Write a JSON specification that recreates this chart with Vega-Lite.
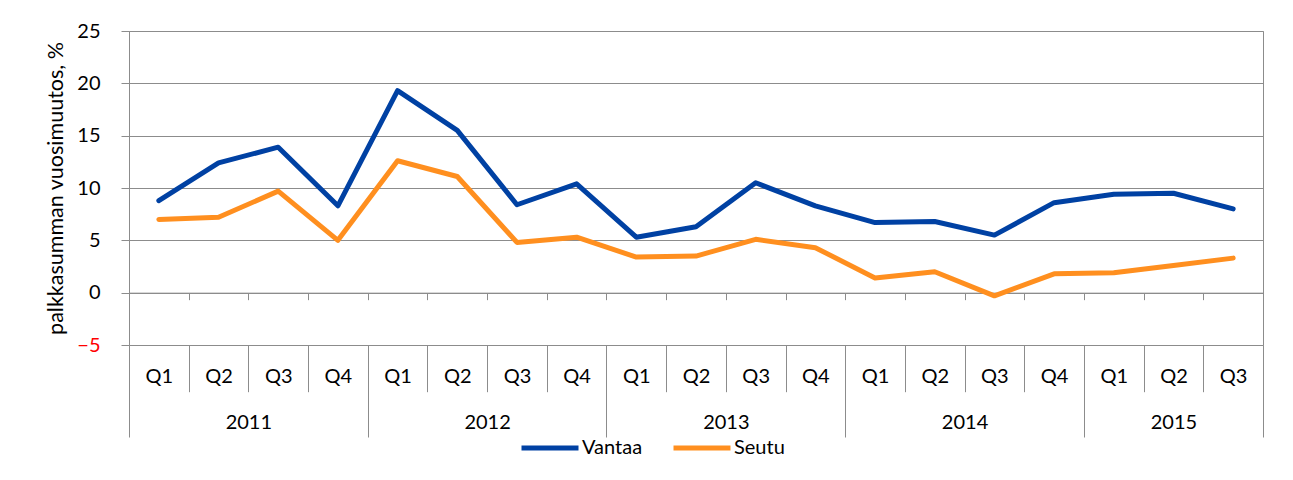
{
  "$schema": "https://vega.github.io/schema/vega-lite/v6.json",
  "width": 1134,
  "height": 314,
  "autosize": {"type": "none"},
  "padding": {"left": 129, "top": 31, "right": 30, "bottom": 135},
  "background": "white",
  "config": {
    "font": "Lato",
    "view": {"stroke": "#8c8c8c", "strokeWidth": 1},
    "axis": {"labelFont": "Lato", "titleFont": "Lato", "labelColor": "#000000", "titleColor": "#000000"}
  },
  "datasets": {
    "vantaa": [
      {"period": "2011 Q1", "series": "Vantaa", "value": 8.8},
      {"period": "2011 Q2", "series": "Vantaa", "value": 12.4},
      {"period": "2011 Q3", "series": "Vantaa", "value": 13.9},
      {"period": "2011 Q4", "series": "Vantaa", "value": 8.3},
      {"period": "2012 Q1", "series": "Vantaa", "value": 19.3},
      {"period": "2012 Q2", "series": "Vantaa", "value": 15.5},
      {"period": "2012 Q3", "series": "Vantaa", "value": 8.4},
      {"period": "2012 Q4", "series": "Vantaa", "value": 10.4},
      {"period": "2013 Q1", "series": "Vantaa", "value": 5.3},
      {"period": "2013 Q2", "series": "Vantaa", "value": 6.3},
      {"period": "2013 Q3", "series": "Vantaa", "value": 10.5},
      {"period": "2013 Q4", "series": "Vantaa", "value": 8.3},
      {"period": "2014 Q1", "series": "Vantaa", "value": 6.7},
      {"period": "2014 Q2", "series": "Vantaa", "value": 6.8},
      {"period": "2014 Q3", "series": "Vantaa", "value": 5.5},
      {"period": "2014 Q4", "series": "Vantaa", "value": 8.6},
      {"period": "2015 Q1", "series": "Vantaa", "value": 9.4},
      {"period": "2015 Q2", "series": "Vantaa", "value": 9.5},
      {"period": "2015 Q3", "series": "Vantaa", "value": 8.0}
    ],
    "seutu": [
      {"period": "2011 Q1", "series": "Seutu", "value": 7.0},
      {"period": "2011 Q2", "series": "Seutu", "value": 7.2},
      {"period": "2011 Q3", "series": "Seutu", "value": 9.7},
      {"period": "2011 Q4", "series": "Seutu", "value": 5.0},
      {"period": "2012 Q1", "series": "Seutu", "value": 12.6},
      {"period": "2012 Q2", "series": "Seutu", "value": 11.1},
      {"period": "2012 Q3", "series": "Seutu", "value": 4.8},
      {"period": "2012 Q4", "series": "Seutu", "value": 5.3},
      {"period": "2013 Q1", "series": "Seutu", "value": 3.4},
      {"period": "2013 Q2", "series": "Seutu", "value": 3.5},
      {"period": "2013 Q3", "series": "Seutu", "value": 5.1},
      {"period": "2013 Q4", "series": "Seutu", "value": 4.3},
      {"period": "2014 Q1", "series": "Seutu", "value": 1.4},
      {"period": "2014 Q2", "series": "Seutu", "value": 2.0},
      {"period": "2014 Q3", "series": "Seutu", "value": -0.3},
      {"period": "2014 Q4", "series": "Seutu", "value": 1.8},
      {"period": "2015 Q1", "series": "Seutu", "value": 1.9},
      {"period": "2015 Q2", "series": "Seutu", "value": 2.6},
      {"period": "2015 Q3", "series": "Seutu", "value": 3.3}
    ]
  },
  "layer": [
    {
      "data": {"name": "vantaa"},
      "mark": {"type": "line", "strokeWidth": 5, "strokeCap": "round", "strokeJoin": "round"},
      "encoding": {
        "x": {
          "field": "period", "type": "nominal", "bandPosition": 0.5,
          "scale": {"type": "band", "paddingInner": 0, "paddingOuter": 0},
          "axis": {
            "orient": "bottom", "offset": -52.33, "title": null, "grid": false,
            "domain": true, "domainColor": "#8c8c8c", "domainWidth": 1,
            "tickBand": "extent", "ticks": true, "tickSize": 7, "tickColor": "#8c8c8c", "tickWidth": 1,
            "labelExpr": "isString(datum.value) ? split(datum.value, ' ')[1] : ''",
            "labelAngle": 0, "labelFontSize": 20, "labelPadding": 67,
            "labelOverlap": false, "labelBound": false, "labelFlush": false
          }
        },
        "y": {
          "field": "value", "type": "quantitative",
          "scale": {"domain": [-5, 25], "nice": false, "zero": false},
          "axis": {
            "values": [-5, 0, 5, 10, 15, 20, 25],
            "grid": true, "gridColor": "#8c8c8c", "gridWidth": 1,
            "domain": true, "domainColor": "#8c8c8c",
            "ticks": true, "tickSize": 8, "tickColor": "#8c8c8c",
            "labelFontSize": 20, "labelPadding": 21,
            "labelColor": {"condition": {"test": "datum.value < 0", "value": "#ff0000"}, "value": "#000000"},
            "title": "palkkasumman vuosimuutos, %",
            "titleFontSize": 21.5, "titleFontWeight": "normal", "titlePadding": 9
          }
        },
        "color": {
          "field": "series", "type": "nominal",
          "scale": {"domain": ["Vantaa", "Seutu"], "range": ["#0041a3", "#ff8f1f"]},
          "legend": {
            "orient": "none", "legendX": 390, "legendY": 386, "direction": "horizontal",
            "title": null, "padding": 0,
            "symbolType": "stroke", "symbolSize": 3249, "symbolStrokeWidth": 5,
            "labelFontSize": 20, "labelFont": "Lato", "labelColor": "#000000", "labelOffset": 1, "columnPadding": 20
          }
        }
      }
    },
    {
      "data": {"name": "seutu"},
      "mark": {"type": "line", "strokeWidth": 5, "strokeCap": "round", "strokeJoin": "round"},
      "encoding": {
        "x": {
          "field": "period", "type": "nominal", "bandPosition": 0.5,
          "scale": {"type": "band", "paddingInner": 0, "paddingOuter": 0},
          "axis": {
            "orient": "bottom", "offset": 0, "title": null, "grid": false,
            "domain": false,
            "tickBand": "extent", "ticks": true, "tickColor": "#8c8c8c", "tickWidth": 1,
            "tickSize": {"condition": {"test": "datum.extra || test(/Q4$/, datum.value) || datum.value == '2015 Q3'", "value": 92}, "value": 46.7},
            "labelExpr": "isString(datum.value) && test(/Q2$/, datum.value) ? split(datum.value, ' ')[0] : ''",
            "labelOffset": {"condition": {"test": "datum.value == '2015 Q2'", "value": 0}, "value": 29.84},
            "labelAngle": 0, "labelFontSize": 20, "labelPadding": 21,
            "labelOverlap": false, "labelBound": false, "labelFlush": false
          }
        },
        "y": {
          "field": "value", "type": "quantitative",
          "scale": {"domain": [-5, 25], "nice": false, "zero": false}
        },
        "color": {"field": "series", "type": "nominal"}
      }
    }
  ],
  "resolve": {"scale": {"x": "independent"}, "axis": {"x": "independent"}}
}
